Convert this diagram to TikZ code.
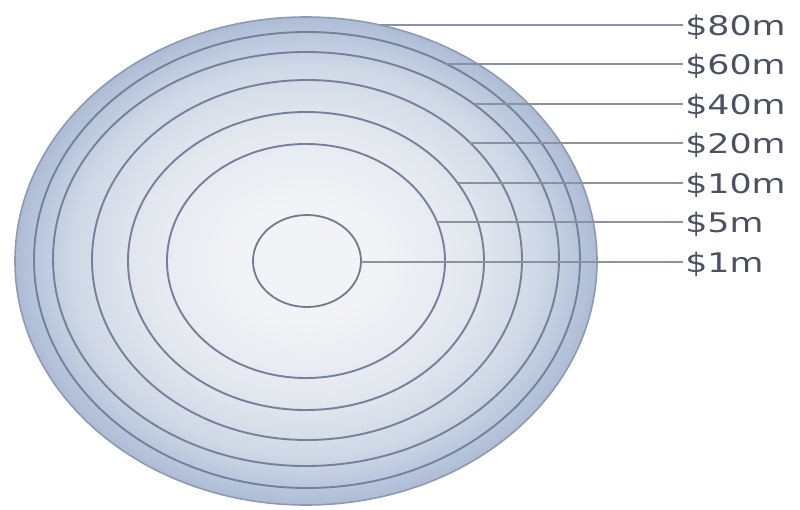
\documentclass[tikz,border=0pt]{standalone}
\usepackage{fontspec}
\setmainfont{DejaVu Sans}
\definecolor{cA}{HTML}{F2F3F6}
\definecolor{cB}{HTML}{E4E8EF}
\definecolor{cC}{HTML}{CFD8E6}
\definecolor{cD}{HTML}{ADBCD6}
\definecolor{ringc}{HTML}{74819B}
\definecolor{edgec}{HTML}{8E9AB0}
\definecolor{leadc}{HTML}{8A92A2}
\definecolor{labc}{HTML}{4A5162}
\pgfdeclareradialshading{ringshade}{\pgfpoint{0bp}{0bp}}{%
  color(0bp)=(cA); color(6bp)=(cA); color(14bp)=(cB); color(20bp)=(cC);
  color(25bp)=(cD); color(50bp)=(cD)}
\tikzset{
  ring/.style={draw=ringc, line width=1.9pt},
  leader/.style={draw=leadc, line width=1.5pt},
  money/.style={anchor=west, inner sep=0pt, text=labc, xscale=1.29,
    font=\fontsize{27}{27}\selectfont, text height=20pt, text depth=0pt}
}
\begin{document}
\begin{tikzpicture}[x=1pt, y=-1pt]
\useasboundingbox (0,0) rectangle (800,509);
% body
\path[shading=ringshade] (306,261) ellipse [x radius=291, y radius=244];
\draw[draw=edgec, line width=1.6pt] (306,261) ellipse [x radius=291, y radius=244];
% rings
\draw[ring] (307,260) ellipse [x radius=273, y radius=228];
\draw[ring] (306,259) ellipse [x radius=253, y radius=207];
\draw[ring] (307,260) ellipse [x radius=215, y radius=180];
\draw[ring] (306,261) ellipse [x radius=178, y radius=149];
\draw[ring] (306,261) ellipse [x radius=139, y radius=117];
\draw[draw=edgec!80!black, line width=1.8pt] (307,261) ellipse [x radius=54, y radius=46];
% leader ends on rings
\coordinate (e80) at ({306+291*cos(asin(236/244))}, 25);
\coordinate (e60) at ({307+273*cos(asin(196/228))}, 64);
\coordinate (e40) at ({306+253*cos(asin(155/207))}, 104);
\coordinate (e20) at ({307+215*cos(asin(117/180))}, 143);
\coordinate (e10) at ({306+178*cos(asin(78/149))}, 183);
\coordinate (e5)  at ({306+139*cos(asin(39/117))}, 222);
\coordinate (e1)  at (361, 262);
% labels
\node[money] (l80) at (685, 25) {\$80m};
\node[money] (l60) at (685, 64) {\$60m};
\node[money] (l40) at (685, 104) {\$40m};
\node[money] (l20) at (685, 143) {\$20m};
\node[money] (l10) at (685, 183) {\$10m};
\node[money] (l5)  at (685, 222) {\$5m};
\node[money] (l1)  at (685, 262) {\$1m};
% leaders
\foreach \k in {80,60,40,20,10,5,1}{
  \draw[leader] ([xshift=-2pt]l\k.west) -- (e\k);
}
\end{tikzpicture}
\end{document}
